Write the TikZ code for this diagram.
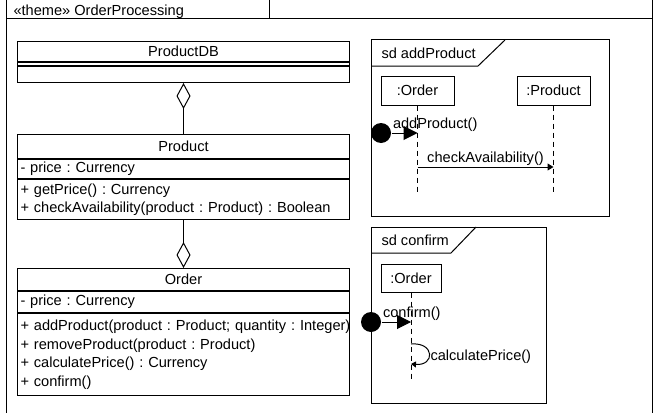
\documentclass[tikz,border=0pt]{standalone}
\usepackage{fontspec}
\setmainfont{Liberation Sans}
\usetikzlibrary{positioning,arrows.meta}

\begin{document}
\begin{tikzpicture}
    [ x=1pt, y=-1pt
    , line width=1pt
    , every node/.style={font=\fontsize{14.6}{18.5}\selectfont\frenchspacing}
    , compname/.style={draw, minimum width=332pt, minimum height=#1, inner sep=0pt}
    , comp/.style={draw, text width=326pt, inner xsep=3pt, inner ysep=0pt, align=left, minimum height=#1}
    , lifebox/.style={draw, inner sep=0pt, minimum height=29pt, minimum width=73pt}
    , lifeline/.style={dash pattern=on 5pt off 4pt}
    , found/.style={circle, fill=black, inner sep=0pt, minimum size=20pt}
    , bigtip/.style={-{Triangle[length=14pt,width=14pt]}}
    , smalltip/.style={-{Triangle[length=6pt,width=7pt]}}
    , aggr/.style={-{Diamond[open,length=26pt,width=14pt]}}
    , tablabel/.style={anchor=west, inner sep=0pt}
    ]

    \useasboundingbox (0,0) rectangle (666,412);
    \fill[white] (0,0) rectangle (666,412);
    \clip (0,0) rectangle (666,412);

    % theme frame
    \draw (6,-5) rectangle (652,430);
    \draw (6,19) -- (652,19);
    \draw (269,-5) -- (269,19);
    \node[tablabel] (theme) at (13,12) {«theme» OrderProcessing};

    % classes
    \node[compname=20pt, anchor=north west] (dbname) at (17,41) {ProductDB};
    \node[comp=3pt, below=0pt of dbname] (dbattr) {};
    \node[comp=16pt, below=0pt of dbattr] (dbops) {};

    \node[compname=24pt, anchor=north west] (prodname) at (17,134) {Product};
    \node[comp=19pt, below=0pt of prodname] (prodattr) {- price : Currency};
    \node[comp=40pt, below=0pt of prodattr] (prodops)
      {+ getPrice() : Currency\\+ checkAvailability(product : Product) : Boolean};

    \node[compname=22pt, anchor=north west] (ordname) at (17,268) {Order};
    \node[comp=21pt, below=0pt of ordname] (ordattr) {- price : Currency};
    \node[comp=82pt, below=0pt of ordattr] (ordops)
      {\mbox{+ addProduct(product : Product; quantity : Integer)}\\
       + removeProduct(product : Product)\\
       + calculatePrice() : Currency\\
       + confirm()};

    \draw[aggr] (prodname.north) -- (dbops.south);
    \draw[aggr] (prodops.south) -- (ordname.north);

    % sd addProduct
    \draw (371,40) rectangle (609,216);
    \draw (371,66) -- (478,66) -- (505,40);
    \node[tablabel] (sdadd) at (381,53) {sd addProduct};

    \node[lifebox] (addord) at (417.5,90.5) {:Order};
    \node[lifebox] (addprod) at (553.5,90.5) {:Product};
    \coordinate (addordend) at (417.5,193);
    \coordinate (addprodend) at (553.5,193);
    \draw[lifeline] (addord.south) -- (addordend);
    \draw[lifeline] (addprod.south) -- (addprodend);

    \node[found] (found1) at (381,133) {};
    \coordinate (m1) at (417.5,133);
    \draw[bigtip] (found1) -- node[anchor=south west, pos=0, inner sep=1pt] (lbladd) {addProduct()} (m1);

    \coordinate (m2a) at (417.5,167);
    \coordinate (m2b) at (553.5,167);
    \draw[smalltip] (m2a) -- node[above, inner sep=1pt] (lblcheck) {checkAvailability()} (m2b);

    % sd confirm
    \draw (371,227) rectangle (546,403);
    \draw (371,253) -- (451,253) -- (476,227);
    \node[tablabel] (sdconf) at (381,240) {sd confirm};

    \node[lifebox, minimum width=60pt, minimum height=28pt] (conford) at (411,278) {:Order};
    \coordinate (confordend) at (411,382);
    \draw[lifeline] (conford.south) -- (confordend);

    \node[found] (found2) at (371,322) {};
    \coordinate (m3) at (411,322);
    \draw[bigtip] (found2) -- node[anchor=south west, pos=0, inner sep=1pt] (lblconf) {confirm()} (m3);

    \coordinate (m4a) at (411,344);
    \coordinate (m4b) at (411,364);
    \draw[-{Triangle[length=5pt,width=6pt]}] (m4a) .. controls (435,342) and (435,366) ..
      node[right, inner sep=1pt, yshift=-3pt] (lblcalc) {calculatePrice()} (m4b);

  \end{tikzpicture}
\end{document}
